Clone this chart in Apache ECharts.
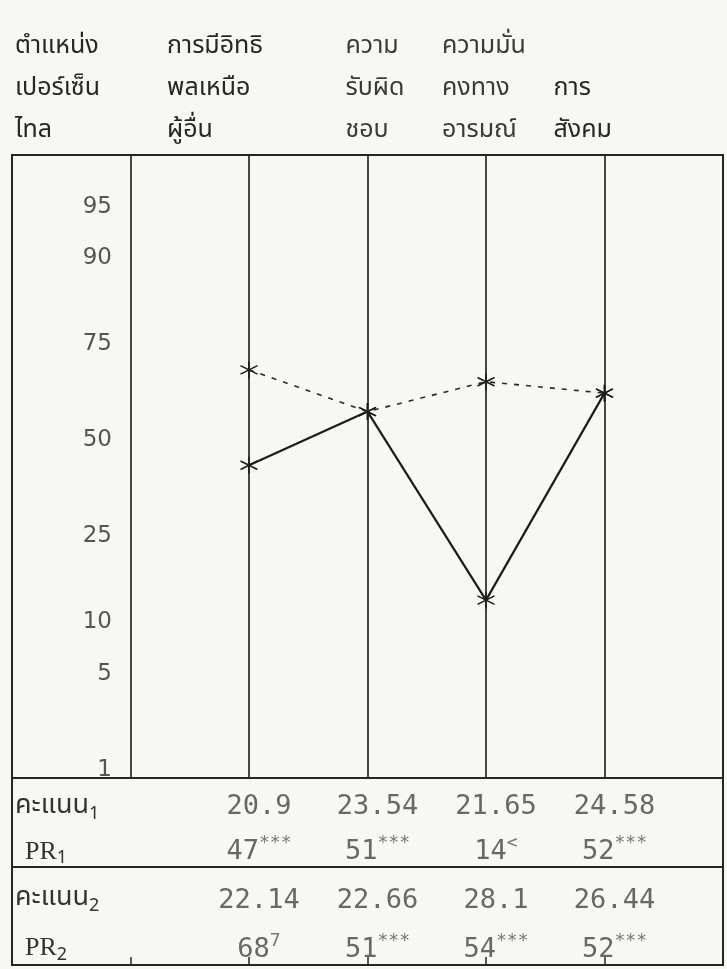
<!DOCTYPE html>
<html>
<head>
<meta charset="utf-8">
<script src="https://cdn.jsdelivr.net/npm/echarts@6/dist/echarts.min.js"></script>
<style>
html,body{margin:0;padding:0;background:#f7f7f4;}
#c{width:727px;height:969px;}
</style>
</head>
<body>
<div id="c"></div>
<script>
// ---- data ----
const categories = ['การมีอิทธิพลเหนือผู้อื่น', 'ความรับผิดชอบ', 'ความมั่นคงทางอารมณ์', 'การสังคม'];
const headerLines = [
  ['การมีอิทธิ', 'พลเหนือ', 'ผู้อื่น'],
  ['ความ', 'รับผิด', 'ชอบ'],
  ['ความมั่น', 'คงทาง', 'อารมณ์'],
  ['', 'การ', 'สังคม']
];
const scaleTitle = ['ตำแหน่ง', 'เปอร์เซ็น', 'ไทล'];
const yTicks = [1, 5, 10, 25, 50, 75, 90, 95];
// percentile profile as drawn
const profile1 = [43, 58, 13, 63];   // solid line
const profile2 = [69, 58, 66, 63];   // dashed line
// table
const score1 = ['20.9', '23.54', '21.65', '24.58'];
const pr1 = ['47', '51', '14', '52'];
const mark1 = ['***', '***', '<', '***'];
const score2 = ['22.14', '22.66', '28.1', '26.44'];
const pr2 = ['68', '51', '54', '52'];
const mark2 = ['7', '***', '***', '***'];

// ---- normal-probability (percentile) scale ----
function probit(p) {
  const a=[-3.969683028665376e+01,2.209460984245205e+02,-2.759285104469687e+02,1.383577518672690e+02,-3.066479806614716e+01,2.506628277459239e+00];
  const b=[-5.447609879822406e+01,1.615858368580409e+02,-1.556989798598866e+02,6.680131188771972e+01,-1.328068155288572e+01];
  const c=[-7.784894002430293e-03,-3.223964580411365e-01,-2.400758277161838e+00,-2.549732539343734e+00,4.374664141464968e+00,2.938163982698783e+00];
  const d=[7.784695709041462e-03,3.224671290700398e-01,2.445134137142996e+00,3.754408661907416e+00];
  const pl=0.02425, ph=1-pl; let q, r;
  if (p < pl) { q=Math.sqrt(-2*Math.log(p)); return (((((c[0]*q+c[1])*q+c[2])*q+c[3])*q+c[4])*q+c[5])/((((d[0]*q+d[1])*q+d[2])*q+d[3])*q+1); }
  if (p <= ph) { q=p-0.5; r=q*q; return (((((a[0]*r+a[1])*r+a[2])*r+a[3])*r+a[4])*r+a[5])*q/(((((b[0]*r+b[1])*r+b[2])*r+b[3])*r+b[4])*r+1); }
  q=Math.sqrt(-2*Math.log(1-p)); return -(((((c[0]*q+c[1])*q+c[2])*q+c[3])*q+c[4])*q+c[5])/((((d[0]*q+d[1])*q+d[2])*q+d[3])*q+1);
}
const pz = v => probit(v / 100);

const slots = ['_frame', '_scale'].concat(categories, ['_end']);
const INK = '#262626';
const THAI = "'Noto Sans Thai','Noto Sans Thai Looped','Loma','Garuda','Noto Sans','DejaVu Sans',sans-serif";
const MONO = "'DejaVu Sans Mono','Liberation Mono',monospace";

const headerRich = {
  hs: {width: 231, align: 'left', fontFamily: THAI, fontSize: 25, color: '#262626', lineHeight: 42},
  h0: {width: 164, align: 'left', fontFamily: THAI, fontSize: 25, color: '#262626', lineHeight: 42},
  h1: {width: 44, align: 'left', fontFamily: THAI, fontSize: 25, color: '#3a3a3a', lineHeight: 42},
  h2: {width: 88, align: 'left', fontFamily: THAI, fontSize: 25, color: '#3a3a3a', lineHeight: 42},
  h3: {width: 102, align: 'left', fontFamily: THAI, fontSize: 25, color: '#262626', lineHeight: 42}
};
function headerFmt(v) {
  if (v === '_scale') return scaleTitle.map(t => '{hs|' + t + '}').join('\n');
  const i = categories.indexOf(v);
  if (i < 0) return '';
  return headerLines[i].map(t => '{h' + i + '|' + (t || ' ') + '}').join('\n');
}

const tableRich = {
  n: {fontFamily: MONO, fontSize: 27, color: '#444', lineHeight: 34},
  s: {fontFamily: MONO, fontSize: 18, color: '#555', verticalAlign: 'top', lineHeight: 34, padding: [0, 0, 24, 0]},
  t: {fontFamily: THAI, fontSize: 27, color: '#333', lineHeight: 34},
  pr: {fontFamily: "'Liberation Serif','DejaVu Serif',serif", fontSize: 26, color: '#333', padding: [0, 0, 0, 10], lineHeight: 34},
  sub: {fontFamily: THAI, fontSize: 18, color: '#333', verticalAlign: 'bottom', lineHeight: 34, padding: [10, 0, 0, 0]}
};
function rowName(idx) {
  return function (v) {
    return v === 'score' ? '{t|คะแนน}{sub|' + idx + '}' : '{pr|PR}{sub|' + idx + '}';
  };
}
function tableData() {
  const out = [];
  categories.forEach(c => { out.push([c, 'score']); out.push([c, 'pr']); });
  return out;
}
function tableFmt(scores, prs, marks) {
  return function (p) {
    const i = Math.floor(p.dataIndex / 2);
    if (p.value[1] === 'score') return '{n|' + scores[i] + '}';
    return '{n|' + prs[i] + '}{s|' + marks[i] + '}';
  };
}

const star = 'path://M10,0 L10,20 M1.34,5 L18.66,15 M1.34,15 L18.66,5';
const gridBase = {left: 12, right: 4, show: true, borderColor: INK, borderWidth: 2, backgroundColor: 'transparent', containLabel: false, outerBoundsMode: 'none'};

const chart = echarts.init(document.getElementById('c'), null, {renderer: 'canvas'});
chart.setOption({
  backgroundColor: '#f7f7f4',
  animation: false,
  grid: [
    Object.assign({}, gridBase, {top: 155, bottom: 191}),
    Object.assign({}, gridBase, {top: 778, height: 89}),
    Object.assign({}, gridBase, {top: 867, bottom: 4})
  ],
  xAxis: [
    {gridIndex: 0, type: 'category', data: slots, boundaryGap: false, position: 'bottom',
     axisLine: {show: false}, axisTick: {show: false}, axisLabel: {show: false},
     splitLine: {show: true, interval: 0, lineStyle: {color: INK, width: 1.7}}},
    {gridIndex: 0, type: 'category', data: slots, boundaryGap: false, position: 'top',
     axisLine: {show: false}, axisTick: {show: false},
     axisLabel: {show: true, interval: 0, margin: 2, formatter: headerFmt, rich: headerRich}},
    {gridIndex: 1, type: 'category', data: slots, boundaryGap: false,
     axisLine: {show: false}, axisTick: {show: false}, axisLabel: {show: false}, splitLine: {show: false}},
    {gridIndex: 2, type: 'category', data: slots, boundaryGap: false,
     axisLine: {show: false}, axisLabel: {show: false}, splitLine: {show: false},
     axisTick: {show: true, inside: true, length: 8, interval: 0, lineStyle: {color: INK, width: 1.5}}}
  ],
  yAxis: [
    {gridIndex: 0, type: 'value', min: -2.38, max: 2.01,
     axisLine: {show: false}, axisTick: {show: false}, splitLine: {show: false},
     axisLabel: {show: true, inside: true, margin: 100, align: 'right',
       customValues: yTicks.map(pz),
       formatter: function (v) {
         let best = yTicks[0], bd = 1e9;
         yTicks.forEach(t => { const d = Math.abs(pz(t) - v); if (d < bd) { bd = d; best = t; } });
         return String(best);
       },
       fontFamily: "'DejaVu Sans',sans-serif", fontSize: 23, color: '#555'}},
    {gridIndex: 1, type: 'category', data: ['score', 'pr'], inverse: true,
     axisLine: {show: false}, axisTick: {show: false}, splitLine: {show: false},
     axisLabel: {show: true, inside: true, margin: 3, align: 'left', formatter: rowName(1), rich: tableRich, padding: [14, 0, 0, 0]}},
    {gridIndex: 2, type: 'category', data: ['score', 'pr'], inverse: true,
     axisLine: {show: false}, axisTick: {show: false}, splitLine: {show: false},
     axisLabel: {show: true, inside: true, margin: 3, align: 'left', formatter: rowName(2), rich: tableRich, padding: [16, 0, 0, 0]}}
  ],
  series: [
    {type: 'line', xAxisIndex: 0, yAxisIndex: 0,
     data: categories.map((c, i) => [c, pz(profile1[i])]),
     lineStyle: {color: '#1c1c1c', width: 2.2},
     symbol: star, symbolSize: 17,
     itemStyle: {color: 'transparent', borderColor: '#1c1c1c', borderWidth: 1.6}},
    {type: 'line', xAxisIndex: 0, yAxisIndex: 0,
     data: categories.map((c, i) => [c, pz(profile2[i])]),
     lineStyle: {color: '#2a2a2a', width: 1.6, type: [5, 7]},
     symbol: star, symbolSize: 17,
     itemStyle: {color: 'transparent', borderColor: '#1c1c1c', borderWidth: 1.6}},
    {type: 'scatter', xAxisIndex: 2, yAxisIndex: 1, data: tableData(),
     symbolSize: 1, itemStyle: {color: 'transparent'},
     label: {show: true, position: 'inside', offset: [10, 7], formatter: tableFmt(score1, pr1, mark1), rich: tableRich}},
    {type: 'scatter', xAxisIndex: 3, yAxisIndex: 2, data: tableData(),
     symbolSize: 1, itemStyle: {color: 'transparent'},
     label: {show: true, position: 'inside', offset: [10, 9], formatter: tableFmt(score2, pr2, mark2), rich: tableRich}}
  ]
});
</script>
</body>
</html>
